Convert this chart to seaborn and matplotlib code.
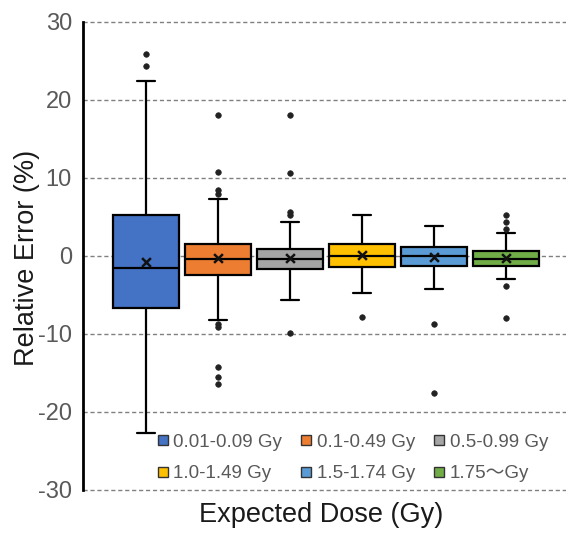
import matplotlib
matplotlib.use("Agg")
import matplotlib.pyplot as plt
from matplotlib.lines import Line2D
import numpy as np
import pandas as pd
import seaborn as sns

# Dose groups and box statistics
groups = ["0.01-0.09 Gy", "0.1-0.49 Gy", "0.5-0.99 Gy",
          "1.0-1.49 Gy", "1.5-1.74 Gy", "1.75\u301cGy"]
q1 = [-6.7, -2.4, -1.7, -1.45, -1.3, -1.25]
q3 = [5.3, 1.6, 0.9, 1.5, 1.1, 0.65]
medians = [-1.5, -0.4, -0.4, 0.0, -0.05, -0.35]
means = [-0.8, -0.3, -0.25, 0.15, -0.1, -0.2]
whisker_low = [-22.7, -8.2, -5.6, -4.8, -4.2, -2.95]
whisker_high = [22.4, 7.3, 4.3, 5.2, 3.8, 3.0]
outliers = [
    [25.9, 24.4],
    [18.1, 10.8, 8.5, 7.9, -8.7, -9.1, -14.2, -15.5, -16.4],
    [18.1, 10.7, 5.7, 5.3, -9.9],
    [-7.8],
    [-8.7, -17.5],
    [5.3, 4.3, 3.4, -3.9, -8.0],
]
y_ticks = [-30, -20, -10, 0, 10, 20, 30]

# Excel-like palette
BOX_COLORS = ["#4472C4", "#ED7D31", "#A5A5A5", "#FFC000", "#5B9BD5", "#70AD47"]
TEXT_GRAY = "#595959"

sns.set_theme(style="white")
plt.rcParams["font.family"] = ["Liberation Sans", "Noto Sans CJK JP", "DejaVu Sans"]
plt.rcParams["axes.unicode_minus"] = False

fig = plt.figure(figsize=(5.66, 5.34), dpi=100)
ax = fig.add_axes([83 / 566, 1 - 490 / 534, 1 - 83 / 566, (490 - 22) / 534])

stats = []
for i, g in enumerate(groups):
    stats.append({
        "label": g, "q1": q1[i], "q3": q3[i], "med": medians[i],
        "whislo": whisker_low[i], "whishi": whisker_high[i], "fliers": [],
    })

positions = np.arange(len(groups))
bp = ax.bxp(
    stats, positions=positions, widths=0.92, patch_artist=True,
    showfliers=False, capwidths=0.25,
    boxprops={"edgecolor": "black", "linewidth": 1.6},
    medianprops={"color": "black", "linewidth": 1.6},
    whiskerprops={"color": "black", "linewidth": 1.6},
    capprops={"color": "black", "linewidth": 1.6},
    zorder=3,
)
for patch, c in zip(bp["boxes"], BOX_COLORS):
    patch.set_facecolor(c)

# Outliers and means through seaborn
out_df = pd.DataFrame(
    [(i, v) for i, vals in enumerate(outliers) for v in vals],
    columns=["pos", "value"],
)
sns.scatterplot(data=out_df, x="pos", y="value", color="#222222", s=16,
                edgecolor="#222222", linewidth=0.5, zorder=4, ax=ax, legend=False)
mean_df = pd.DataFrame({"pos": positions, "mean": means})
sns.scatterplot(data=mean_df, x="pos", y="mean", marker="x", color="#111111",
                s=40, linewidth=1.8, zorder=5, ax=ax, legend=False)

ax.set_xlim(-0.87, 5.83)
ax.set_ylim(-30, 30)
ax.set_yticks(y_ticks)
ax.set_xticks([])
ax.tick_params(axis="y", length=0, pad=8, labelsize=17, labelcolor=TEXT_GRAY)
for yv in y_ticks:
    ax.axhline(yv, color="#808080", linestyle=(0, (3, 2)), linewidth=1.0,
               zorder=1, clip_on=False)

for side in ["top", "right", "bottom"]:
    ax.spines[side].set_visible(False)
ax.spines["left"].set_color("black")
ax.spines["left"].set_linewidth(2.0)
ax.spines["left"].set_zorder(6)

ax.set_xlabel("")
ax.set_ylabel("")
fig.text(27 / 566, 1 - 258 / 534, "Relative Error (%)", fontsize=19.5,
         color="#1a1a1a", ha="center", va="center", rotation=90)
fig.text(321 / 566, 1 - 515 / 534, "Expected Dose (Gy)", fontsize=19.5,
         color="#1a1a1a", ha="center", va="center")

# Legend: 3 columns, row-major order
handles = [Line2D([0], [0], marker="s", linestyle="none", markersize=6.5,
                  markerfacecolor=c, markeredgecolor="#333333",
                  markeredgewidth=1.0) for c in BOX_COLORS]
order = [0, 3, 1, 4, 2, 5]
ax.legend([handles[i] for i in order], [groups[i] for i in order],
          ncol=3, frameon=False, loc="upper left",
          bbox_to_anchor=(0.134, 0.14), borderpad=0, fontsize=13.5,
          labelcolor=TEXT_GRAY, handlelength=0.6, handletextpad=0.25,
          columnspacing=1.0, labelspacing=0.75)

fig.savefig("out.png", dpi=100, facecolor="white")
